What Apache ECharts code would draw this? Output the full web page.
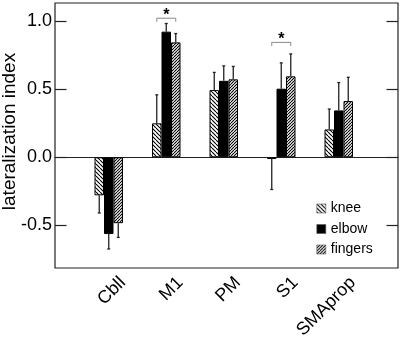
<!DOCTYPE html>
<html>
<head>
<meta charset="utf-8">
<script src="https://cdn.jsdelivr.net/npm/echarts@6/dist/echarts.min.js"></script>
<style>
  html, body { margin: 0; padding: 0; background: #fff; }
  #chart { width: 400px; height: 340px; }
</style>
</head>
<body>
<div id="chart"></div>
<script>
// data
const categories = ['Cbll', 'M1', 'PM', 'S1', 'SMAprop'];
const knee       = [-0.28, 0.25, 0.495, -0.012, 0.205];
const kneeErr    = [0.13, 0.21, 0.13, 0.225, 0.15];
const elbow      = [-0.565, 0.925, 0.563, 0.505, 0.345];
const elbowErr   = [0.11, 0.06, 0.11, 0.19, 0.205];
const fingers    = [-0.485, 0.846, 0.574, 0.596, 0.414];
const fingersErr = [0.105, 0.065, 0.095, 0.165, 0.175];
const yTicks = [-0.5, 0, 0.5, 1.0];
// significance brackets (category, bracket top, leg end)
const sigCats = [1, 3];
const sigTop  = [1.024, 0.846];
const sigLeg  = [0.998, 0.82];

const yMin = -0.815, yMax = 1.136;
const barW = 9.5;

// hatch patterns
function hatch(size, dir, lw) {
  const c = document.createElement('canvas');
  c.width = c.height = size;
  const g = c.getContext('2d');
  g.fillStyle = '#fff';
  g.fillRect(0, 0, size, size);
  g.strokeStyle = '#000';
  g.lineWidth = lw;
  g.beginPath();
  for (let k = -1; k <= 1; k++) {
    if (dir > 0) { g.moveTo(k * size, size); g.lineTo(k * size + size, 0); }   // "/"
    else { g.moveTo(k * size, 0); g.lineTo(k * size + size, size); }          // "\"
  }
  g.stroke();
  return c;
}
const kneeFill = { image: hatch(4, -1, 1.1), repeat: 'repeat' };
const fingersFill = { image: hatch(3, 1, 1.1), repeat: 'repeat' };

const groups = [
  { name: 'knee', vals: knee, errs: kneeErr, fill: kneeFill },
  { name: 'elbow', vals: elbow, errs: elbowErr, fill: '#000' },
  { name: 'fingers', vals: fingers, errs: fingersErr, fill: fingersFill }
];

const fontFam = '"Liberation Sans", Arial, Helvetica, sans-serif';

const series = [];
groups.forEach((g, gi) => {
  series.push({
    name: g.name,
    type: 'bar',
    xAxisIndex: 1,
    yAxisIndex: 2,
    barWidth: barW,
    barGap: '0%',
    itemStyle: { color: g.fill, borderColor: '#000', borderWidth: 1 },
    data: g.vals
  });
});
// error bars
groups.forEach((g, gi) => {
  series.push({
    type: 'custom',
    xAxisIndex: 1,
    yAxisIndex: 2,
    z: 5,
    silent: true,
    data: g.vals.map((v, i) => [i, v, v < 0 ? v - g.errs[i] : v + g.errs[i]]),
    renderItem: function (params, api) {
      const p0 = api.coord([api.value(0), api.value(1)]);
      const p1 = api.coord([api.value(0), api.value(2)]);
      const x = p0[0] + (gi - 1) * barW;
      return {
        type: 'group',
        children: [
          { type: 'line', shape: { x1: x, y1: p0[1], x2: x, y2: p1[1] }, style: { stroke: '#222', lineWidth: 1.3 } },
          { type: 'line', shape: { x1: x - 1.5, y1: p1[1], x2: x + 1.5, y2: p1[1] }, style: { stroke: '#222', lineWidth: 1.3 } }
        ]
      };
    }
  });
});
// significance brackets
series.push({
  type: 'custom',
  xAxisIndex: 1,
  yAxisIndex: 2,
  z: 6,
  silent: true,
  data: sigCats.map((c, i) => [c, sigTop[i], sigLeg[i]]),
  renderItem: function (params, api) {
    const t = api.coord([api.value(0), api.value(1)]);
    const l = api.coord([api.value(0), api.value(2)]);
    const xa = t[0] - barW, xb = t[0] + barW;
    return {
      type: 'group',
      children: [
        { type: 'polyline', shape: { points: [[xa, l[1]], [xa, t[1]], [xb, t[1]], [xb, l[1]]] }, style: { stroke: '#888', lineWidth: 1, fill: null } },
        { type: 'text', x: t[0], y: t[1] - 2.5, style: { text: '*', fontSize: 16, fontWeight: 'bold', fontFamily: fontFam, fill: '#000', align: 'center', verticalAlign: 'middle' } }
      ]
    };
  }
});

const chart = echarts.init(document.getElementById('chart'), null, { renderer: 'canvas' });
chart.setOption({
  backgroundColor: '#fff',
  animation: false,
  textStyle: { fontFamily: fontFam },
  grid: [
    { left: 55, right: 2, top: 3, bottom: 72, show: true, borderColor: '#222', borderWidth: 1.2, backgroundColor: 'transparent', outerBoundsMode: 'none' },
    { left: 80, width: 287.5, top: 3, bottom: 72, outerBoundsMode: 'none' },
    { left: 94, width: 287.5, top: 3, bottom: 72, outerBoundsMode: 'none' }
  ],
  legend: {
    orient: 'vertical',
    left: 311.5,
    top: 196.5,
    icon: 'rect',
    itemWidth: 9,
    itemHeight: 9,
    itemGap: 6.5,
    itemStyle: { borderColor: '#555', borderWidth: 0.6 },
    textStyle: { fontSize: 14, color: '#000', fontFamily: fontFam },
    data: ['knee', 'elbow', 'fingers']
  },
  xAxis: [
    {
      gridIndex: 0, type: 'value', min: 0, max: 1,
      axisLine: { show: true, onZero: true, onZeroAxisIndex: 0, lineStyle: { color: '#222', width: 1.2 } },
      axisTick: { show: false }, axisLabel: { show: false }, splitLine: { show: false }
    },
    {
      gridIndex: 1, type: 'category', data: categories, show: false
    },
    {
      gridIndex: 2, type: 'category', data: categories,
      axisLine: { show: false }, axisTick: { show: false }, splitLine: { show: false },
      axisLabel: { interval: 0, rotate: 45, margin: 12, fontSize: 18, color: '#000', fontFamily: fontFam }
    }
  ],
  yAxis: [
    {
      gridIndex: 0, type: 'value', min: yMin, max: yMax, position: 'left',
      name: 'lateralization index', nameLocation: 'middle', nameRotate: 90, nameGap: 36,
      nameMoveOverlap: false,
      nameTextStyle: { fontSize: 19, color: '#000', fontFamily: fontFam, padding: [0, 0, 0, 8] },
      axisLine: { show: false },
      axisTick: { show: true, inside: true, length: 11.5, customValues: yTicks, lineStyle: { color: '#222', width: 1.2 } },
      axisLabel: { customValues: yTicks, formatter: v => v.toFixed(1), fontSize: 18, margin: 3, color: '#000', fontFamily: fontFam },
      splitLine: { show: false }
    },
    {
      gridIndex: 0, type: 'value', min: yMin, max: yMax, position: 'right',
      axisLine: { show: false },
      axisTick: { show: true, inside: true, length: 11.5, customValues: yTicks, lineStyle: { color: '#222', width: 1.2 } },
      axisLabel: { show: false },
      splitLine: { show: false }
    },
    { gridIndex: 1, type: 'value', min: yMin, max: yMax, show: false },
    { gridIndex: 2, type: 'value', min: yMin, max: yMax, show: false }
  ],
  series: series
});
</script>
</body>
</html>
